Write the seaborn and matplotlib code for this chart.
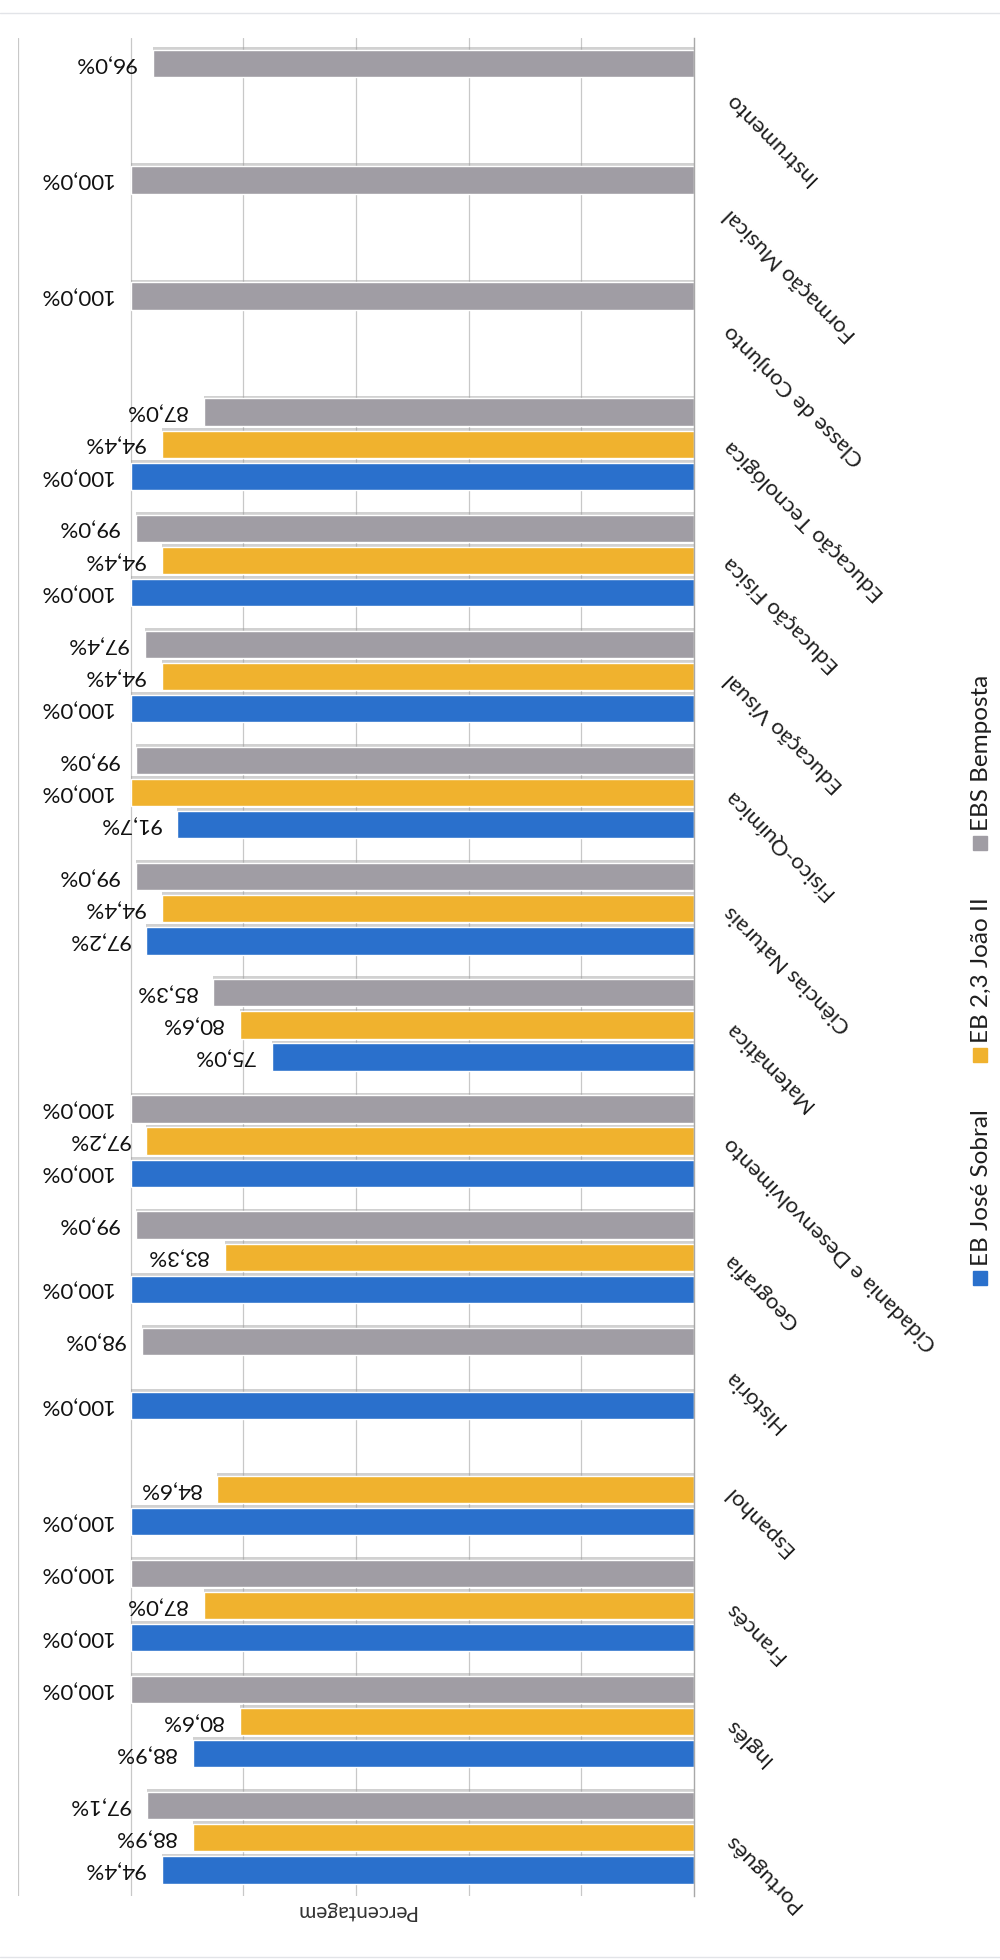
import numpy as np
import pandas as pd
import seaborn as sns
import matplotlib.pyplot as plt
import matplotlib.patheffects as pe
from matplotlib.patches import Rectangle
from matplotlib.lines import Line2D

disciplinas = ["Português", "Inglês", "Francês", "Espanhol", "História", "Geografia",
               "Cidadania e Desenvolvimento", "Matemática", "Ciências Naturais",
               "Físico-Química", "Educação Visual", "Educação Física",
               "Educação Tecnológica", "Classe de Conjunto", "Formação Musical",
               "Instrumento"]
escolas = ["EB José Sobral", "EB 2,3 João II", "EBS Bemposta"]
jose_sobral = [94.4, 88.9, 100.0, 100.0, 100.0, 100.0, 100.0, 75.0, 97.2, 91.7,
               100.0, 100.0, 100.0, None, None, None]
joao_ii = [88.9, 80.6, 87.0, 84.6, None, 83.3, 97.2, 80.6, 94.4, 100.0,
           94.4, 94.4, 94.4, None, None, None]
bemposta = [97.1, 100.0, 100.0, None, 98.0, 99.0, 100.0, 85.3, 99.0, 99.0,
            97.4, 99.0, 87.0, 100.0, 100.0, 96.0]
cores = ["#2a70cc", "#f0b22e", "#a09da4"]

rows = []
for escola, vals in zip(escolas, [jose_sobral, joao_ii, bemposta]):
    for d, v in zip(disciplinas, vals):
        if v is not None:
            rows.append({"disciplina": d, "escola": escola, "pct": v})
df = pd.DataFrame(rows)

sns.set_style("white")
plt.rcParams["font.family"] = ["Lato", "DejaVu Sans"]

fig = plt.figure(figsize=(10, 19.6), dpi=100)
ax = fig.add_axes([0.018, 0.0327, 0.676, 0.948])

sns.barplot(data=df, x="pct", y="disciplina", hue="escola", order=disciplinas,
            hue_order=escolas, palette=cores, orient="h", width=0.83, gap=0.15,
            saturation=1, errorbar=None, legend=False, ax=ax)

# soft shadow like the original office chart
for p in ax.patches:
    p.set_path_effects([pe.SimplePatchShadow(offset=(0, 2), shadow_rgbFace="#9a9a9a",
                                             alpha=0.45), pe.Normal()])

ax.set_xlim(120, 0)
ax.set_ylim(-0.5, len(disciplinas) - 0.5)
ax.set_xticks([20, 40, 60, 80, 100, 120])
ax.grid(axis="x", color="#c8c8c8", lw=0.9)
ax.set_axisbelow(True)
ax.tick_params(axis="x", labelbottom=False, length=0)
for s in ["top", "bottom", "left"]:
    ax.spines[s].set_visible(False)
ax.spines["right"].set_color("#a8a8a8")
ax.spines["right"].set_linewidth(1)

# category labels on the baseline side, diagonal and upside down
ax.yaxis.tick_right()
ax.set_yticks(range(len(disciplinas)))
ax.set_yticklabels(disciplinas, rotation=135, rotation_mode="anchor",
                   ha="right", va="center", fontsize=16, color="#1e1e1e")
ax.tick_params(axis="y", length=0, pad=24)
ax.set_ylabel("")

ax.set_xlabel("Percentagem", rotation=180, fontsize=15, color="#333333", labelpad=4)

# value labels
for cont in ax.containers:
    for bar in cont:
        w = bar.get_width()
        if np.isnan(w):
            continue
        yc = bar.get_y() + bar.get_height() / 2
        ax.annotate(f"{w:.1f}%".replace(".", ","), (w, yc), xytext=(-17, 0),
                    textcoords="offset pixels", ha="right", va="center",
                    rotation=180, fontsize=16, color="#111111")

# legend, rotated like the rest of the page
leg_pos = [1278, 1055, 843]
for escola, cor, yp in zip(escolas, cores, leg_pos):
    fig.add_artist(Rectangle((973 / 1000, 1 - (yp + 7) / 1960), 14 / 1000, 14 / 1960,
                             transform=fig.transFigure, color=cor))
    fig.text(981 / 1000, 1 - (yp - 12) / 1960, escola, rotation=90, ha="center",
             va="bottom", fontsize=17.5, color="#1e1e1e")

# faint scan edges
fig.add_artist(Line2D([0, 1], [1 - 13 / 1960, 1 - 13 / 1960], transform=fig.transFigure,
                      color="#e2e4e8", lw=1))
fig.add_artist(Line2D([0, 1], [3 / 1960, 3 / 1960], transform=fig.transFigure,
                      color="#e2e4e8", lw=1))

fig.savefig("out.png", dpi=100, facecolor="white")
plt.close()
